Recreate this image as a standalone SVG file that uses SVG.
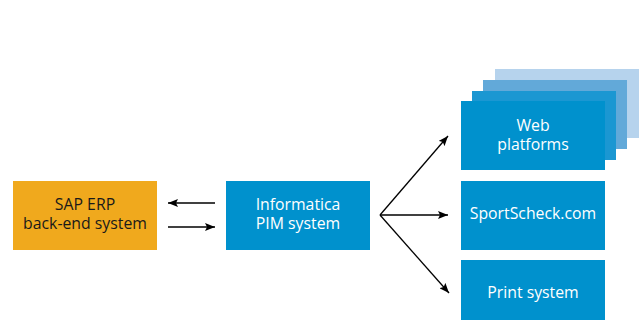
<svg xmlns="http://www.w3.org/2000/svg" width="644" height="320" viewBox="0 0 644 320">
<defs>
<style>
.t{font-family:"Open Sans","Liberation Sans",sans-serif;font-size:15.8px;text-anchor:middle}
.w{fill:#ffffff}
.k{fill:#1a1a1a}
.blue{fill:#0091cd}
.ln{stroke:#000;stroke-width:1.3;fill:none}
</style>
<marker id="ah" viewBox="0 0 10 8" refX="10" refY="4" markerWidth="10" markerHeight="8" markerUnits="userSpaceOnUse" orient="auto">
<path d="M0,0 L10,4 L0,8 L2,4 Z" fill="#000"/>
</marker>
</defs>
<rect width="644" height="320" fill="#fff"/>
<g id="sap">
<rect x="13" y="181" width="144" height="69" fill="#f0a91d"/>
<text class="t k"><tspan x="85" y="210">SAP ERP</tspan><tspan x="85" y="229">back-end system</tspan></text>
</g>
<g id="pim">
<rect class="blue" x="226" y="181" width="144" height="69"/>
<text class="t w"><tspan x="298" y="210">Informatica</tspan><tspan x="298" y="229">PIM system</tspan></text>
</g>
<g id="web">
<rect x="495" y="69" width="144" height="69" fill="#b6d3ed"/>
<rect x="483" y="80" width="144" height="69" fill="#62a9d9"/>
<rect x="472" y="91" width="144" height="69" fill="#1b97d2"/>
<rect class="blue" x="461" y="101" width="144" height="69"/>
<text class="t w"><tspan x="533" y="131">Web</tspan><tspan x="533" y="150">platforms</tspan></text>
</g>
<g id="sportscheck">
<rect class="blue" x="461" y="181" width="144" height="69"/>
<text class="t w" x="533" y="219">SportScheck.com</text>
</g>
<g id="print">
<rect class="blue" x="461" y="260" width="144" height="69"/>
<text class="t w" x="533" y="298">Print system</text>
</g>
<g id="connectors">
<line class="ln" x1="215" y1="203" x2="168" y2="203" marker-end="url(#ah)" stroke-width="1.6"/>
<line class="ln" x1="168" y1="227" x2="215" y2="227" marker-end="url(#ah)" stroke-width="1.6"/>
<line class="ln" x1="380" y1="215" x2="448" y2="136" marker-end="url(#ah)"/>
<line class="ln" x1="380" y1="215" x2="448" y2="215" marker-end="url(#ah)" stroke-width="1.6"/>
<line class="ln" x1="380" y1="215" x2="449" y2="293" marker-end="url(#ah)"/>
</g>
</svg>
